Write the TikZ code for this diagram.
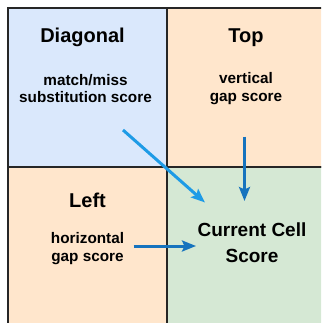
\documentclass[tikz,border=0pt]{standalone}
\usepackage{fontspec}
\setmainfont{Liberation Sans}
\usetikzlibrary{arrows.meta}
\definecolor{cellblue}{HTML}{DAE8FC}
\definecolor{cellorange}{HTML}{FFE6CC}
\definecolor{cellgreen}{HTML}{D5E8D4}
\definecolor{gridline}{HTML}{262626}
\definecolor{arrowlight}{HTML}{1E9BE6}
\definecolor{arrowdark}{HTML}{1673BE}
\tikzset{
  cell/.style={draw=gridline, line width=1.8pt, minimum width=159pt, minimum height=159pt, inner sep=0pt, outer sep=0pt},
  headtext/.style={anchor=base, inner sep=0pt, font=\bfseries\fontsize{20}{24}\selectfont},
  desctext/.style={anchor=base, inner sep=0pt, align=center, font=\bfseries\fontsize{15.3}{17.5}\selectfont},
  curtext/.style={anchor=base, inner sep=0pt, align=center, font=\bfseries\fontsize{19}{26}\selectfont},
  flowarrow/.style={line width=3pt, -{Stealth[length=14pt, width=11pt, inset=2.5pt]}}
}
\begin{document}
\begin{tikzpicture}[x=1pt, y=-1pt]
\useasboundingbox (0,0) rectangle (321,323);
\clip (0,0) rectangle (321,323);
\fill[white] (0,0) rectangle (321,323);
% cells
\node[cell, fill=cellblue] (diag) at (87.5,87.5) {};
\node[cell, fill=cellorange] (top) at (246.5,87.5) {};
\node[cell, fill=cellorange] (left) at (87.5,246.5) {};
\node[cell, fill=cellgreen] (cur) at (246.5,246.5) {};
% texts (base anchor = baseline of last line)
\node[headtext] (diagh) at (82.5,43) {Diagonal};
\node[desctext] (diagd) at (85.5,103) {match/miss\\substitution score};
\node[headtext] (toph) at (246,43) {Top};
\node[desctext] (topd) at (246,101.5) {vertical\\gap score};
\node[headtext] (lefth) at (87.5,207) {Left};
\node[desctext] (leftd) at (87.5,261) {horizontal\\gap score};
\node[curtext] (curt) at (252,262) {Current Cell\\Score};
% arrow end points
\coordinate (ds) at (123,130);
\coordinate (de) at (205,202.5);
\coordinate (ts) at (244.5,136.5);
\coordinate (te) at (244.5,201);
\coordinate (ls) at (133.5,246);
\coordinate (le) at (196,246);
\draw[flowarrow, arrowlight] (ds) -- (de);
\draw[flowarrow, arrowdark] (ts) -- (te);
\draw[flowarrow, arrowdark] (ls) -- (le);
\end{tikzpicture}
\end{document}
